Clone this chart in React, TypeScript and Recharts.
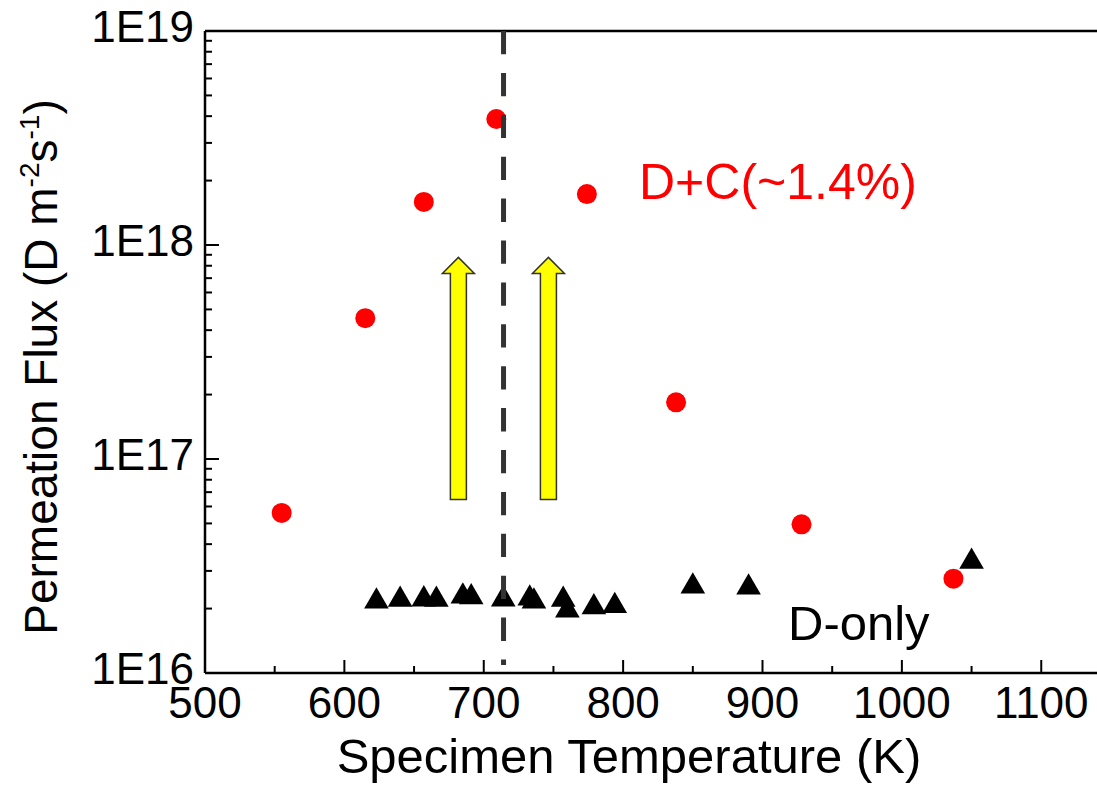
import React from 'react';
import { ScatterChart, Scatter, XAxis, YAxis, ReferenceLine, ReferenceDot } from 'recharts';

// D+C (~1.4%) series
const dcTemp = [555, 615, 657, 709, 774, 838, 928, 1037];
const dcFlux = [5.6e16, 4.55e17, 1.59e18, 3.88e18, 1.73e18, 1.84e17, 4.95e16, 2.76e16];
// D-only series
const dTemp = [623, 640, 657, 666, 685, 691, 714, 733, 736, 757, 760, 779, 794, 850, 890, 1050];
const dFlux = [2.16e16, 2.2e16, 2.21e16, 2.2e16, 2.28e16, 2.26e16, 2.21e16, 2.23e16, 2.16e16, 2.2e16, 1.96e16, 2.03e16, 2.06e16, 2.54e16, 2.51e16, 3.31e16];

const xTicks = [500, 550, 600, 650, 700, 750, 800, 850, 900, 950, 1000, 1050, 1100];
const xMajor = [500, 600, 700, 800, 900, 1000, 1100];
const yExps = [16, 17, 18];
const yMant = [1, 2, 3, 4, 5, 6, 7, 8, 9];
const yTicks = [...yExps.flatMap((e) => yMant.map((m) => m * Math.pow(10, e))), 1e19];

const xDomain = [500, 1140];
const yDomain = [1e16, 1e19];

const markerTemp = 714.2;
const markerTop = 1e19;
const markerBottom = 1.09e16;

const arrowTemps = [681.8, 746.4];
const arrowFrom = 6.47e16;
const arrowTo = 8.75e17;

const dcLabel = 'D+C(~1.4%)';
const dcLabelPos = { x: 811.4, y: 1.64e18 };
const dLabel = 'D-only';
const dLabelPos = { x: 918.3, y: 1.43e16 };

const FONT = 'Liberation Sans, Arial, Helvetica, sans-serif';

const dcData = dcTemp.map((x, i) => ({ x, y: dcFlux[i] }));
const dData = dTemp.map((x, i) => ({ x, y: dFlux[i] }));

const isMajorLog = (v: number) => Math.abs(Math.log10(v) - Math.round(Math.log10(v))) < 1e-9;

const XTickBottom = (props: any) => {
  const { x, y, payload } = props;
  const major = xMajor.includes(payload.value);
  return (
    <g>
      <line x1={x} x2={x} y1={y} y2={y - (major ? 13 : 7)} stroke="#000" strokeWidth={2} />
      {major && (
        <text x={x} y={y + 45} textAnchor="middle" fontSize={44} fontFamily={FONT} fill="#000">
          {payload.value}
        </text>
      )}
    </g>
  );
};

const XTickTop = (props: any) => {
  const { x, y, payload } = props;
  const major = xMajor.includes(payload.value);
  return <line x1={x} x2={x} y1={y} y2={y + (major ? 13 : 7)} stroke="#000" strokeWidth={2} />;
};

const YTick = (props: any) => {
  const { x, y, payload } = props;
  const major = isMajorLog(payload.value);
  return (
    <g>
      <line x1={x} x2={x + (major ? 14 : 7)} y1={y} y2={y} stroke="#000" strokeWidth={2} />
      {major && (
        <text x={x - 11} y={y + 11} textAnchor="end" fontSize={44} fontFamily={FONT} fill="#000">
          {`1E${Math.round(Math.log10(payload.value))}`}
        </text>
      )}
    </g>
  );
};

const Circle = (p: any) => <circle cx={p.cx} cy={p.cy} r={10} fill="#FF0000" />;
const Tri = (p: any) => {
  const h = 7.1;
  const w = Math.sqrt(3) * h;
  return (
    <path
      d={`M${p.cx},${p.cy - 2 * h}L${p.cx + w},${p.cy + h}L${p.cx - w},${p.cy + h}Z`}
      fill="#000"
    />
  );
};

const Arrow = (p: any) => {
  const { x1, y1, y2 } = p;
  const x = x1;
  const yb = Math.max(y1, y2);
  const yt = Math.min(y1, y2);
  const sw = 8;
  const hw = 16;
  const hh = 16;
  const d = `M${x - sw},${yb}L${x - sw},${yt + hh}L${x - hw},${yt + hh}L${x},${yt}L${x + hw},${yt + hh}L${x + sw},${yt + hh}L${x + sw},${yb}Z`;
  return <path d={d} fill="#FFFF00" stroke="#333" strokeWidth={1.5} />;
};

const XTitle = () => (
  <text x={629} y={773} textAnchor="middle" fontSize={49} fontFamily={FONT} fill="#000">
    Specimen Temperature (K)
  </text>
);

const YTitle = () => (
  <text
    x={57}
    y={367}
    transform="rotate(-90, 57, 367)"
    textAnchor="middle"
    fontSize={46}
    fontFamily={FONT}
    fill="#000"
  >
    Permeation Flux (D m
    <tspan dy={-18} fontSize={28}>-2</tspan>
    <tspan dy={18} fontSize={46}>s</tspan>
    <tspan dy={-18} fontSize={28}>-1</tspan>
    <tspan dy={18} fontSize={46}>)</tspan>
  </text>
);

const makeLabel = (text: string, color: string, size: number) => (props: any) => {
  const vb = props.viewBox || {};
  return (
    <text x={vb.x} y={vb.y} textAnchor="start" fontSize={size} fontFamily={FONT} fill={color}>
      {text}
    </text>
  );
};

export default function App() {
  return (
    <div style={{ position: 'absolute', left: 0, top: 0, background: '#fff' }}>
      <ScatterChart width={1097} height={786} margin={{ top: 0, right: 0, bottom: 0, left: 0 }}>
        <XAxis
          xAxisId="b"
          dataKey="x"
          type="number"
          domain={xDomain}
          ticks={xTicks}
          interval={0}
          orientation="bottom"
          height={113}
          allowDataOverflow
          axisLine={{ stroke: '#000', strokeWidth: 2.5 }}
          tickLine={false}
          tickSize={0}
          tickMargin={0}
          tick={<XTickBottom />}
          label={XTitle}
        />
        <XAxis
          xAxisId="t"
          type="number"
          domain={xDomain}
          ticks={xTicks}
          interval={0}
          orientation="top"
          height={31}
          allowDataOverflow
          axisLine={{ stroke: '#000', strokeWidth: 2.5 }}
          tickLine={false}
          tickSize={0}
          tickMargin={0}
          tick={<XTickTop />}
        />
        <YAxis
          yAxisId="l"
          dataKey="y"
          type="number"
          scale="log"
          domain={yDomain}
          ticks={yTicks}
          interval={0}
          width={205}
          allowDataOverflow
          axisLine={{ stroke: '#000', strokeWidth: 2.5 }}
          tickLine={false}
          tickSize={0}
          tickMargin={0}
          tick={<YTick />}
          label={YTitle}
        />
        <Scatter xAxisId="b" yAxisId="l" data={dcData} shape={Circle} isAnimationActive={false} />
        <Scatter xAxisId="b" yAxisId="l" data={dData} shape={Tri} isAnimationActive={false} />
        {arrowTemps.map((t) => (
          <ReferenceLine
            key={t}
            xAxisId="b"
            yAxisId="l"
            segment={[
              { x: t, y: arrowFrom },
              { x: t, y: arrowTo },
            ]}
            shape={Arrow}
            zIndex={700}
          />
        ))}
        <ReferenceLine
          xAxisId="b"
          yAxisId="l"
          segment={[
            { x: markerTemp, y: markerTop },
            { x: markerTemp, y: markerBottom },
          ]}
          stroke="#333"
          strokeWidth={5}
          strokeDasharray="23.3 18.6"
          zIndex={800}
        />
        <ReferenceDot
          xAxisId="b"
          yAxisId="l"
          x={dcLabelPos.x}
          y={dcLabelPos.y}
          r={0}
          fill="none"
          stroke="none"
          label={makeLabel(dcLabel, '#FF0000', 50)}
        />
        <ReferenceDot
          xAxisId="b"
          yAxisId="l"
          x={dLabelPos.x}
          y={dLabelPos.y}
          r={0}
          fill="none"
          stroke="none"
          label={makeLabel(dLabel, '#000', 49)}
        />
      </ScatterChart>
    </div>
  );
}
